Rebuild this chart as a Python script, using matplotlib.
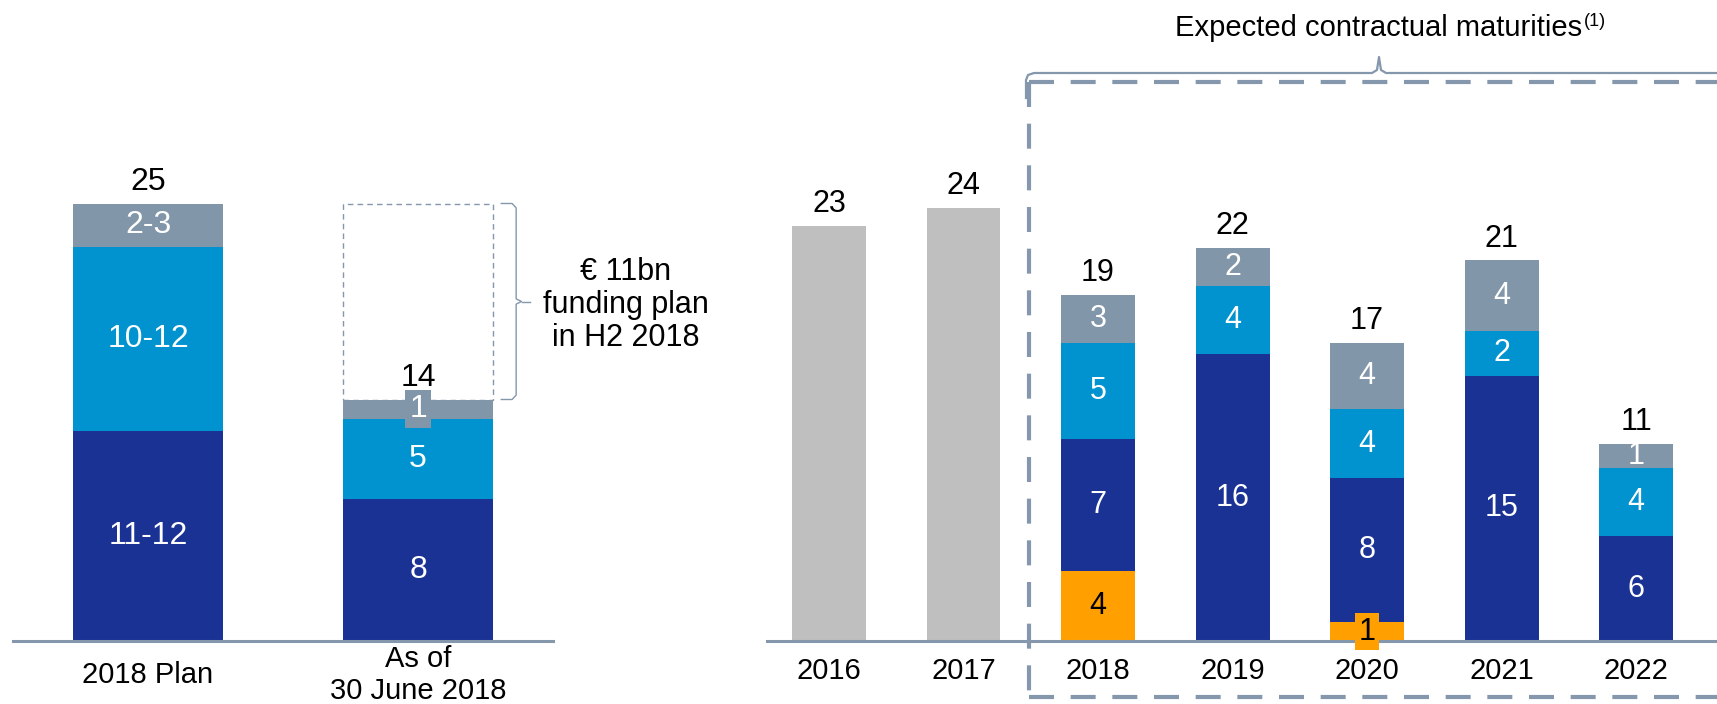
import matplotlib
matplotlib.use("Agg")
import matplotlib.pyplot as plt
from matplotlib.patches import Rectangle
from matplotlib.lines import Line2D

# data
plan_cats = ["2018 Plan", "As of\n30 June 2018"]
plan_dark = [12, 8.1]
plan_blue = [10.5, 4.6]
plan_gray = [2.5, 1.1]
plan_dark_lbl = ["11-12", "8"]
plan_blue_lbl = ["10-12", "5"]
plan_gray_lbl = ["2-3", "1"]
plan_totals = ["25", "14"]
plan_target = 25

years = ["2016", "2017", "2018", "2019", "2020", "2021", "2022"]
hist_vals = [23, 24]
mat_orange = [3.9, 0, 1.05, 0, 0]
mat_dark = [7.3, 15.9, 8.0, 14.7, 5.8]
mat_blue = [5.3, 3.8, 3.8, 2.5, 3.8]
mat_gray = [2.7, 2.1, 3.7, 3.9, 1.3]
mat_orange_lbl = ["4", "", "1", "", ""]
mat_dark_lbl = ["7", "16", "8", "15", "6"]
mat_blue_lbl = ["5", "4", "4", "2", "4"]
mat_gray_lbl = ["3", "2", "4", "4", "1"]
mat_totals = ["19", "22", "17", "21", "11"]

DARK = "#1a3294"
BLUE = "#0093d0"
GRAY = "#8296aa"
ORANGE = "#ffa000"
LGRAY = "#bfbfbf"
LINE = "#8497ac"

FONT = "Liberation Sans"
plt.rcParams["font.family"] = FONT

W, H = 1717, 704
fig = plt.figure(figsize=(W / 100, H / 100), dpi=100)


def px_axes(x0, x1, ybot, ytop):
    return fig.add_axes([x0 / W, 1 - ybot / H, (x1 - x0) / W, (ybot - ytop) / H])


def style(ax, pad):
    for s in ["top", "right", "left"]:
        ax.spines[s].set_visible(False)
    ax.spines["bottom"].set_color(LINE)
    ax.spines["bottom"].set_linewidth(2.2)
    ax.set_yticks([])
    ax.tick_params(axis="x", length=0, pad=pad)


def seg_labels(ax, xs, bottoms, heights, labels, color, bg, size, box=True):
    for x, b, h, t in zip(xs, bottoms, heights, labels):
        if not t:
            continue
        bbox = dict(boxstyle="square,pad=0.12", fc=bg, ec="none") if box else None
        ax.text(x, b + h / 2, t, ha="center", va="center", color=color,
                fontsize=size, bbox=bbox)


# ---------- left panel ----------
axl = px_axes(13, 553, 641, 151)
style(axl, 24.5)
axl.set_ylim(0, 28)
axl.set_xlim(-0.5, 1.5)
xl = [0, 1]
bw = 0.557
axl.bar(xl, plan_dark, bw, color=DARK)
b1 = plan_dark
axl.bar(xl, plan_blue, bw, bottom=b1, color=BLUE)
b2 = [a + b for a, b in zip(plan_dark, plan_blue)]
axl.bar(xl, plan_gray, bw, bottom=b2, color=GRAY)
tops = [a + b for a, b in zip(b2, plan_gray)]
seg_labels(axl, xl, [0, 0], plan_dark, plan_dark_lbl, "white", DARK, 23)
seg_labels(axl, xl, b1, plan_blue, plan_blue_lbl, "white", BLUE, 23)
seg_labels(axl, xl, b2, plan_gray, plan_gray_lbl, "white", GRAY, 23)
for x, t, lab in zip(xl, tops, plan_totals):
    axl.annotate(lab, (x, t), xytext=(0, 5), textcoords="offset points",
                 ha="center", va="bottom", fontsize=23)
# dashed outline of the remaining funding plan
axl.add_patch(Rectangle((1 - bw / 2, tops[1]), bw, plan_target - tops[1], fill=False,
                        ec=LINE, lw=1, ls=(0, (4, 3)), zorder=0))
# brace
bx0, bx1 = 1 + bw / 2 + 0.03, 1 + bw / 2 + 0.085
ymid = (tops[1] + plan_target) / 2
axl.plot([bx0, bx1 - 0.015, bx1, bx1, bx1 + 0.02, bx1, bx1, bx1 - 0.015, bx0],
         [plan_target, plan_target, plan_target - 0.25, ymid + 0.15, ymid, ymid - 0.15,
          tops[1] + 0.25, tops[1], tops[1]],
         color=LINE, lw=1, clip_on=False)
axl.plot([bx1 + 0.02, bx1 + 0.05], [ymid, ymid], color=LINE, lw=1, clip_on=False)
axl.text(1.77, ymid - 0.2, "€ 11bn\nfunding plan\nin H2 2018", ha="center", va="center",
         fontsize=22, linespacing=1.15)
axl.set_xticks(xl)
axl.set_xticklabels(plan_cats, fontsize=21, linespacing=1.2, va="center")

# ---------- right panel ----------
axr = px_axes(767, 1717, 641, 136)
style(axr, 21.5)
axr.set_ylim(0, 28)
axr.set_xlim(-0.461, 6.602)
bw = 0.55
xh = [0, 1]
xm = [2, 3, 4, 5, 6]
axr.bar(xh, hist_vals, bw, color=LGRAY)
for x, v in zip(xh, hist_vals):
    axr.annotate(str(v), (x, v), xytext=(0, 5), textcoords="offset points",
                 ha="center", va="bottom", fontsize=22)

axr.bar(xm, mat_orange, bw, color=ORANGE)
c1 = mat_orange
axr.bar(xm, mat_dark, bw, bottom=c1, color=DARK)
c2 = [a + b for a, b in zip(c1, mat_dark)]
axr.bar(xm, mat_blue, bw, bottom=c2, color=BLUE)
c3 = [a + b for a, b in zip(c2, mat_blue)]
axr.bar(xm, mat_gray, bw, bottom=c3, color=GRAY)
ctop = [a + b for a, b in zip(c3, mat_gray)]
seg_labels(axr, xm, [0] * 5, mat_orange, mat_orange_lbl, "black", ORANGE, 22)
seg_labels(axr, xm, c1, mat_dark, mat_dark_lbl, "white", DARK, 22)
seg_labels(axr, xm, c2, mat_blue, mat_blue_lbl, "white", BLUE, 22)
seg_labels(axr, xm[:4], c3[:4], mat_gray[:4], mat_gray_lbl[:4], "white", GRAY, 22)
seg_labels(axr, xm[4:], c3[4:], mat_gray[4:], mat_gray_lbl[4:], "white", GRAY, 22, box=False)
for x, t, lab in zip(xm, ctop, mat_totals):
    axr.annotate(lab, (x, t), xytext=(0, 5), textcoords="offset points",
                 ha="center", va="bottom", fontsize=22)
axr.set_xticks(xh + xm)
axr.set_xticklabels(years, fontsize=21, va="center")


# dashed box around the expected maturities (figure pixel coords)
def fx(x):
    return x / W


def fy(y):
    return 1 - y / H


dash = dict(color=LINE, lw=3, ls=(0, (6, 4)), transform=fig.transFigure)
fig.add_artist(Line2D([fx(1029), fx(1029)], [fy(82), fy(698)], **dash))
fig.add_artist(Line2D([fx(1029), fx(1717)], [fy(82), fy(82)], **dash))
fig.add_artist(Line2D([fx(1029), fx(1717)], [fy(697), fy(697)], **dash))

# curly brace above the box
bxs = [1026, 1026, 1028, 1034, 1372, 1377, 1379, 1381, 1386, 1717]
bys = [98, 80, 75, 73, 73, 70, 57, 70, 73, 73]
fig.add_artist(Line2D([fx(v) for v in bxs], [fy(v) for v in bys],
                      color=LINE, lw=1.6, transform=fig.transFigure))
t = fig.text(fx(1379), fy(28), "Expected contractual maturities", ha="center",
             va="center", fontsize=21)
fig.canvas.draw()
bb = t.get_window_extent()
fig.text(bb.x1 / W + 0.001, bb.y1 / H + 0.002, "(1)", ha="left", va="top",
         fontsize=13)

fig.savefig("out.png", dpi=100)
